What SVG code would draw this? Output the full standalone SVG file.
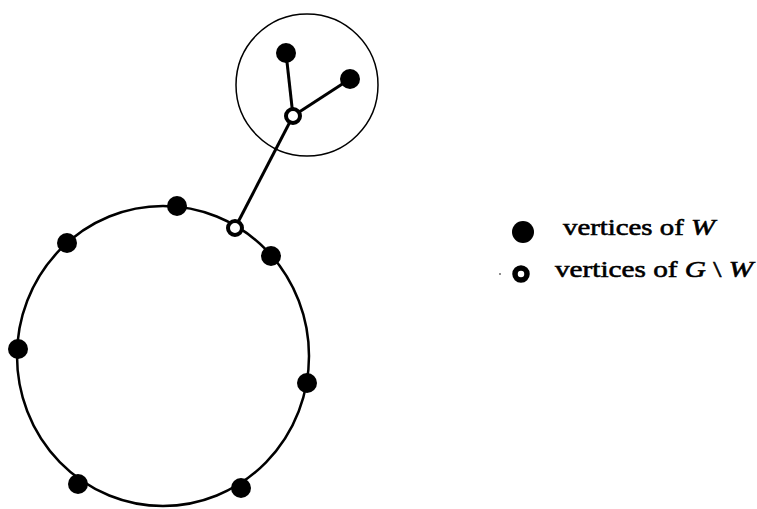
<svg xmlns="http://www.w3.org/2000/svg" width="757" height="509" viewBox="0 0 757 509">
<style>
.full{fill:#000}
.hollow{fill:#fff;stroke:#000;stroke-width:4}
.edge{stroke:#000;stroke-width:3;fill:none}
.ring{stroke:#000;stroke-width:2.5;fill:none}
.thin{stroke:#000;stroke-width:1.5;fill:none}
text{font-family:"Liberation Serif","Times New Roman",serif;font-size:24px;fill:#000;stroke:#000;stroke-width:0.6}
.it{font-style:italic}
</style>
<rect width="757" height="509" fill="#fff"/>
<g id="connectors">
<ellipse class="ring" cx="163" cy="356" rx="146" ry="150"/>
<circle class="thin" cx="307" cy="85" r="71"/>
<line class="edge" x1="235" y1="228" x2="293" y2="116"/>
<line class="edge" x1="293" y1="116" x2="286" y2="53"/>
<line class="edge" x1="293" y1="116" x2="350" y2="79"/>
</g>
<g id="n1"><circle class="full" cx="177" cy="206" r="10"/></g>
<g id="n2"><circle class="full" cx="67" cy="243" r="10"/></g>
<g id="n3"><circle class="full" cx="271" cy="256" r="10"/></g>
<g id="n4"><circle class="full" cx="18" cy="349" r="10"/></g>
<g id="n5"><circle class="full" cx="307" cy="383" r="10"/></g>
<g id="n6"><circle class="full" cx="78" cy="484" r="10"/></g>
<g id="n7"><circle class="full" cx="241" cy="488" r="10"/></g>
<g id="n8"><circle class="full" cx="286" cy="53" r="10"/></g>
<g id="n9"><circle class="full" cx="350" cy="79" r="10"/></g>
<g id="h1"><circle class="hollow" cx="235" cy="228" r="7"/></g>
<g id="h2"><circle class="hollow" cx="293" cy="116" r="7"/></g>
<g id="legend">
<circle class="full" cx="523" cy="232" r="11"/>
<circle cx="521" cy="274" r="6" fill="#fff" stroke="#000" stroke-width="5.5"/>
<circle class="full" cx="500" cy="274" r="0.8"/>
<text x="563" y="235" textLength="152" lengthAdjust="spacingAndGlyphs">vertices of <tspan class="it">W</tspan></text>
<text x="555" y="277" textLength="198" lengthAdjust="spacingAndGlyphs">vertices of <tspan class="it">G</tspan> \ <tspan class="it">W</tspan></text>
</g>
</svg>
